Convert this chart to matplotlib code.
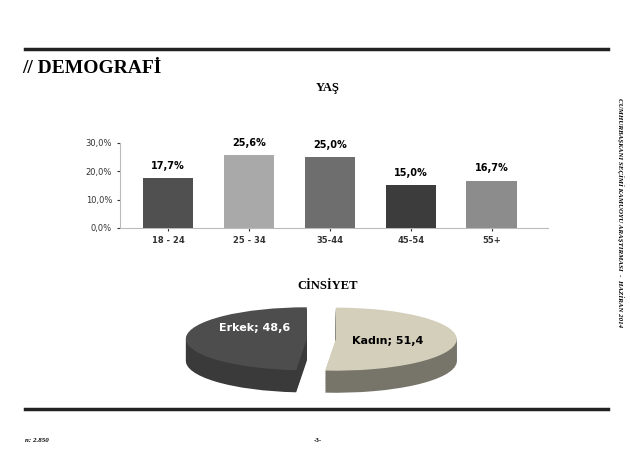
import matplotlib
matplotlib.use("Agg")
import matplotlib.pyplot as plt
import numpy as np

age_groups = ["18 - 24", "25 - 34", "35-44", "45-54", "55+"]
age_values = [17.7, 25.6, 25.0, 15.0, 16.7]
age_colors = ["#505050", "#a9a9a9", "#6e6e6e", "#3c3c3c", "#8c8c8c"]
y_ticks = [0, 10, 20, 30]

gender_labels = ["Erkek", "Kadın"]
gender_values = [48.6, 51.4]
gender_top = ["#4d4d4d", "#d3cfbb"]
gender_side = ["#3a3a3a", "#77746a"]

fig = plt.figure(figsize=(6.3, 4.73), dpi=100)
fig.patch.set_facecolor("white")
serif = "Liberation Serif"

for y, lw in [(0.897, 2.5), (0.135, 2.5)]:
    fig.add_artist(plt.Line2D([0.04, 0.965], [y, y], color="#222222", lw=lw))
fig.text(0.035, 0.845, "// DEMOGRAFİ", family=serif, weight="bold", fontsize=14)
fig.text(0.52, 0.808, "YAŞ", family=serif, weight="bold", fontsize=9, ha="center")
fig.text(0.52, 0.388, "CİNSİYET", family=serif, weight="bold", fontsize=9, ha="center")
fig.text(0.04, 0.065, "n: 2.850", family=serif, style="italic", weight="bold", fontsize=5)
fig.text(0.505, 0.065, "-3-", family=serif, weight="bold", fontsize=5, ha="center")
fig.text(0.985, 0.55, "CUMHURBAŞKANI SEÇİMİ KAMUOYU ARAŞTIRMASI  -  HAZİRAN 2014",
         family=serif, style="italic", weight="bold", fontsize=5, rotation=270,
         ha="center", va="center")

ax = fig.add_axes([0.19, 0.518, 0.68, 0.18])
x = np.arange(len(age_groups))
ax.bar(x, age_values, width=0.62, color=age_colors, zorder=3)
for xi, v in zip(x, age_values):
    ax.text(xi, v + 2.5, f"{v:.1f}%".replace(".", ","), ha="center", va="bottom",
            fontsize=7, weight="bold")
ax.set_ylim(0, 30)
ax.set_xlim(-0.6, 4.7)
ax.set_yticks(y_ticks)
ax.set_yticklabels([f"{t:.1f}%".replace(".", ",") for t in y_ticks], fontsize=6)
ax.set_xticks(x)
ax.set_xticklabels(age_groups, fontsize=6, weight="bold")
for s in ["top", "right"]:
    ax.spines[s].set_visible(False)
ax.spines["left"].set_color("#bbbbbb")
ax.spines["bottom"].set_color("#bbbbbb")
ax.tick_params(length=2, colors="#333333")

pax = fig.add_axes([0.27, 0.16, 0.48, 0.2])
explode = [0.12, 0.12]
for d in np.linspace(-0.7, 0, 14):
    cols = gender_side if d < 0 else gender_top
    pax.pie(gender_values, colors=cols, startangle=90, explode=explode,
            center=(0, d), radius=1.0, wedgeprops=dict(linewidth=0))
pax.text(-0.55, 0.35, f"{gender_labels[0]}; 48,6", color="white", fontsize=8,
         weight="bold", ha="center", va="center")
pax.text(0.55, -0.05, f"{gender_labels[1]}; 51,4", color="black", fontsize=8,
         weight="bold", ha="center", va="center")
pax.set_aspect("auto")
pax.set_xlim(-1.25, 1.25)
pax.set_ylim(-1.85, 1.15)

fig.savefig("out.png", dpi=100)
